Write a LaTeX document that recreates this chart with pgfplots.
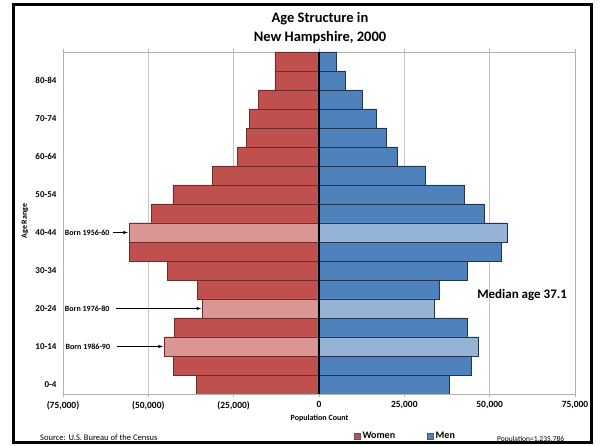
\documentclass[border=0pt]{standalone}
\usepackage{fontspec}
\setmainfont{Carlito}
\usepackage{pgfplots}
\pgfplotsset{compat=1.18}
\usepackage{pgfplotstable}

\definecolor{wom}{HTML}{C0504D}
\definecolor{womlt}{HTML}{DA9694}
\definecolor{womedge}{HTML}{6E2B29}
\definecolor{men}{HTML}{4F81BD}
\definecolor{menlt}{HTML}{95B3D7}
\definecolor{menedge}{HTML}{1F3550}

% y = age group index (0 = 0-4, ..., 17 = 85+), women negative
\pgfplotstableread{
y women men
0  -35900 38100
1  -42650 44500
2  -45300 46800
3  -42350 43500
4  -34100 33900
5  -35600 35200
6  -44400 43600
7  -55600 53500
8  -55600 55250
9  -49100 48550
10 -42800 42550
11 -31200 31100
12 -23800 23000
13 -21200 19800
14 -20300 16700
15 -17650 12800
16 -12900 7850
17 -12900 5100
}\pyramid

% cohorts picked out in lighter colours
\pgfplotstableread{
y women men
2 -45300 46800
4 -34100 33900
8 -55600 55250
}\born

\begin{document}
\begin{tikzpicture}[x=1pt,y=1pt]
\useasboundingbox (0,0) rectangle (602,446);
\draw[line width=2.6pt] (13.5,3.5) rectangle (591.5,441.5);
\node[font=\bfseries\fontsize{14.5}{19}\selectfont, align=center] at (320,418) {Age Structure in\\New Hampshire, 2000};

\begin{axis}[at={(63pt,52pt)}, anchor=south west, scale only axis,
  width=512pt, height=342pt,
  xmin=-75000, xmax=75000, ymin=-0.5, ymax=17.5,
  scaled x ticks=false,
  xtick={-75000,-50000,...,75000},
  xticklabels={{(75,000)},{(50,000)},{(25,000)},0,{25,000},{50,000},{75,000}},
  ytick={0,2,...,16},
  yticklabels={0-4,10-14,20-24,30-34,40-44,50-54,60-64,70-74,80-84},
  xmajorgrids, grid style={gray!45, line width=0.6pt},
  axis line style={gray!60, line width=0.8pt},
  tick align=outside, major tick length=3pt,
  x tick style={gray!60, line width=0.8pt},
  y tick style={draw=none},
  xticklabel style={font=\bfseries\fontsize{9.5}{10}\selectfont, yshift=-1pt},
  yticklabel style={font=\bfseries\fontsize{9}{10}\selectfont},
  /pgf/number format/assume math mode=true,
  legend style={at={(0.562,-0.123)}, anchor=west, draw=none, fill=none,
    legend columns=2, font=\bfseries\fontsize{10}{11}\selectfont,
    /tikz/every even column/.append style={column sep=30pt}},
  legend image code/.code={\draw[#1,/tikz/.cd,line width=0.6pt,draw=gray!70!black] (0pt,-3pt) rectangle (6pt,3pt);},
]
\addplot[xbar, bar width=1, fill=wom, draw=womedge, line width=0.8pt] table[x=women, y=y] {\pyramid};
\addlegendentry{Women}
\addplot[xbar, bar width=1, fill=men, draw=menedge, line width=0.8pt] table[x=men, y=y] {\pyramid};
\addlegendentry{Men}
\addplot[xbar, bar width=1, fill=womlt, draw=womedge, line width=0.8pt, forget plot] table[x=women, y=y] {\born};
\addplot[xbar, bar width=1, fill=menlt, draw=menedge, line width=0.8pt, forget plot] table[x=men, y=y] {\born};

\draw[black, line width=1.3pt] (axis cs:0,-0.5) -- (axis cs:0,17.5);

\begin{scope}[font=\bfseries\fontsize{8}{9}\selectfont]
\node[anchor=west, inner sep=0] at (axis cs:-74500,8) {Born 1956-60};
\node[anchor=west, inner sep=0] at (axis cs:-74500,4) {Born 1976-80};
\node[anchor=west, inner sep=0] at (axis cs:-74300,2) {Born 1986-90};
\end{scope}
\draw[-latex, line width=0.6pt] (axis cs:-60300,8) -- (axis cs:-56000,8);
\draw[-latex, line width=0.6pt] (axis cs:-59600,4) -- (axis cs:-34500,4);
\draw[-latex, line width=0.6pt] (axis cs:-59300,2) -- (axis cs:-45700,2);

\node[font=\bfseries\fontsize{13}{14}\selectfont] at (axis cs:59500,4.7) {Median age 37.1};
\end{axis}

\node[rotate=90, font=\bfseries\fontsize{8}{9}\selectfont] at (25,225) {Age Range};
\node[font=\bfseries\fontsize{8}{9}\selectfont] at (319.5,27.7) {Population Count};
\node[anchor=west, inner sep=0, font=\fontsize{8.5}{9}\selectfont] at (40,8.5) {Source: U.S. Bureau of the Census};
\node[anchor=west, inner sep=0, font=\fontsize{7.5}{8}\selectfont] at (497,6.5) {Population=1,235,786};
\end{tikzpicture}
\end{document}
